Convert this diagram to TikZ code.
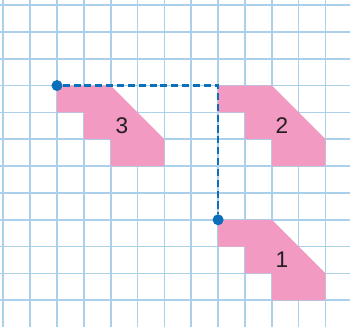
\documentclass[tikz,border=0pt]{standalone}
\usepackage{fontspec}
\setsansfont{Liberation Sans}
\definecolor{gridblue}{HTML}{ABD0EA}
\definecolor{shapepink}{HTML}{F39AC2}
\definecolor{pathblue}{HTML}{0B6FBA}
\definecolor{labelblack}{HTML}{231F20}
\begin{document}
\begin{tikzpicture}[grid line/.style={draw=gridblue,line width=1.8pt},
  tile/.style={fill=shapepink},
  dot/.style={circle,fill=pathblue,minimum size=0.41cm,inner sep=0pt},
  move line/.style={draw=pathblue,line width=2.6pt,dash pattern=on 7.5pt off 4pt},
  tile label/.style={font=\sffamily\fontsize{24}{26}\selectfont,text=labelblack}]
\useasboundingbox (-0.123,0) rectangle (12.913,12.186);
\clip (-0.123,0) rectangle (12.913,12.186);
% grid
\foreach \x in {0,...,12}
  \draw[grid line] (\x,0) -- (\x,12.3);
\foreach \y in {1,...,12}
  \draw[grid line] (-0.2,\y) -- (13,\y);
% shapes 3, 2, 1
\begin{scope}
\fill[tile] (2,9) -- (4,9) -- (6,7) -- (6,6) -- (4,6) -- (4,7) -- (3,7) -- (3,8) -- (2,8) -- cycle;
\node[tile label] (l3) at (4.42,7.5) {3};
\end{scope}
\begin{scope}[shift={(6,0)}]
\fill[tile] (2,9) -- (4,9) -- (6,7) -- (6,6) -- (4,6) -- (4,7) -- (3,7) -- (3,8) -- (2,8) -- cycle;
\node[tile label] (l2) at (4.38,7.5) {2};
\end{scope}
\begin{scope}[shift={(6,-5)}]
\fill[tile] (2,9) -- (4,9) -- (6,7) -- (6,6) -- (4,6) -- (4,7) -- (3,7) -- (3,8) -- (2,8) -- cycle;
\node[tile label] (l1) at (4.38,7.5) {1};
\end{scope}
% translation path
\coordinate (turn) at (8,9);
\node[dot] (p3) at (2,9) {};
\node[dot] (p1) at (8,4) {};
\draw[move line] (p3) -- (turn) -- (p1);
\end{tikzpicture}
\end{document}
